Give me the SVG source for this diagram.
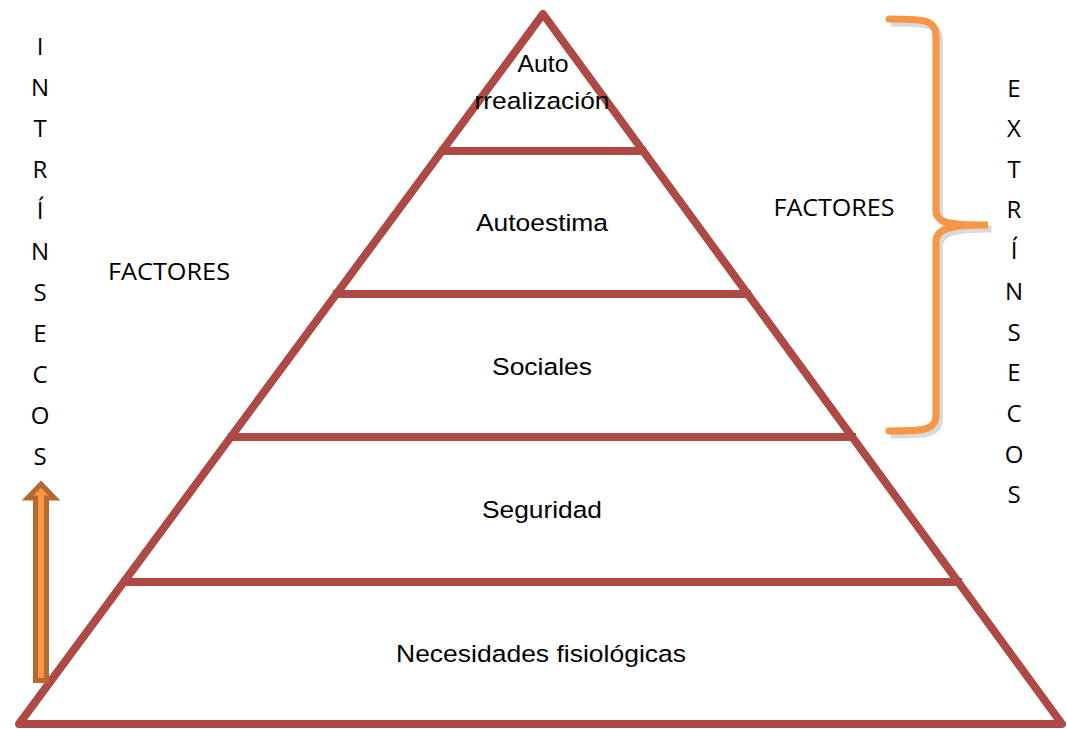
<svg xmlns="http://www.w3.org/2000/svg" width="1067" height="729" viewBox="0 0 1067 729">
<style>
.pyr{fill:none;stroke:#AE4A46;stroke-width:8;stroke-linejoin:round}
.lvl{stroke:#AE4A46;stroke-width:8}
.lbl{font-family:"Liberation Sans",Arial,sans-serif;font-size:24.5px;fill:#000;text-anchor:middle}
.side{font-family:"Open Sans",Lato,sans-serif;font-size:24px;fill:#000;text-anchor:middle}
.brace{fill:none;stroke:#F79646;stroke-width:7;stroke-linecap:round}
</style>
<rect width="1067" height="729" fill="#fff"/>
<g id="pyramid">
<polygon class="pyr" points="543,14 1062,724 19,724"/>
</g>
<g id="connectors">
<line class="lvl" x1="439" y1="151" x2="646" y2="151"/>
<line class="lvl" x1="333" y1="294" x2="751" y2="294"/>
<line class="lvl" x1="228" y1="437" x2="856" y2="437"/>
<line class="lvl" x1="121" y1="582" x2="962" y2="582"/>
</g>
<g id="level-autorrealizacion">
<text class="lbl" x="543" y="72" textLength="51" lengthAdjust="spacingAndGlyphs">Auto</text>
<text class="lbl" x="542" y="109" textLength="135" lengthAdjust="spacingAndGlyphs">rrealización</text>
</g>
<g id="level-autoestima"><text class="lbl" x="542" y="231" textLength="132" lengthAdjust="spacingAndGlyphs">Autoestima</text></g>
<g id="level-sociales"><text class="lbl" x="542" y="375" textLength="100" lengthAdjust="spacingAndGlyphs">Sociales</text></g>
<g id="level-seguridad"><text class="lbl" x="542" y="518" textLength="120" lengthAdjust="spacingAndGlyphs">Seguridad</text></g>
<g id="level-fisiologicas"><text class="lbl" x="541" y="662" textLength="290" lengthAdjust="spacingAndGlyphs">Necesidades fisiológicas</text></g>
<g id="intrinsecos">
<text class="side" x="40" y="55">I</text>
<text class="side" x="40" y="96">N</text>
<text class="side" x="40" y="137">T</text>
<text class="side" x="40" y="178">R</text>
<text class="side" x="40" y="219">Í</text>
<text class="side" x="40" y="260">N</text>
<text class="side" x="40" y="301">S</text>
<text class="side" x="40" y="342">E</text>
<text class="side" x="40" y="383">C</text>
<text class="side" x="40" y="424">O</text>
<text class="side" x="40" y="465">S</text>
<text class="side" x="169" y="280" textLength="122" lengthAdjust="spacingAndGlyphs">FACTORES</text>
</g>
<g id="extrinsecos">
<text class="side" x="1014" y="97">E</text>
<text class="side" x="1014" y="137">X</text>
<text class="side" x="1014" y="178">T</text>
<text class="side" x="1014" y="218">R</text>
<text class="side" x="1014" y="259">Í</text>
<text class="side" x="1014" y="300">N</text>
<text class="side" x="1014" y="341">S</text>
<text class="side" x="1014" y="381">E</text>
<text class="side" x="1014" y="422">C</text>
<text class="side" x="1014" y="463">O</text>
<text class="side" x="1014" y="503">S</text>
<text class="side" x="834" y="216" textLength="121" lengthAdjust="spacingAndGlyphs">FACTORES</text>
</g>
<g id="brace">
<path d="M889,21 C922,21 938,21 938,38 L938,212 C938,225 950,227 990,227 C950,227 938,231 938,244 L938,417 C938,433 922,433 889,433" fill="none" stroke="#000" stroke-opacity="0.15" stroke-width="7" transform="translate(1.5,2)"/>
<path class="brace" d="M889,19 C922,19 936,19 936,36 L936,210 C936,223 948,225 988,225 C948,225 936,229 936,242 L936,415 C936,431 922,431 889,431"/>
</g>
<g id="arrow">
<polygon points="35.5,680.5 46.5,680.5 46.5,498 54.5,498 41,484 27.5,498 35.5,498" fill="#F79646" stroke="#B5692E" stroke-width="5" stroke-linejoin="miter"/>
</g>
</svg>
